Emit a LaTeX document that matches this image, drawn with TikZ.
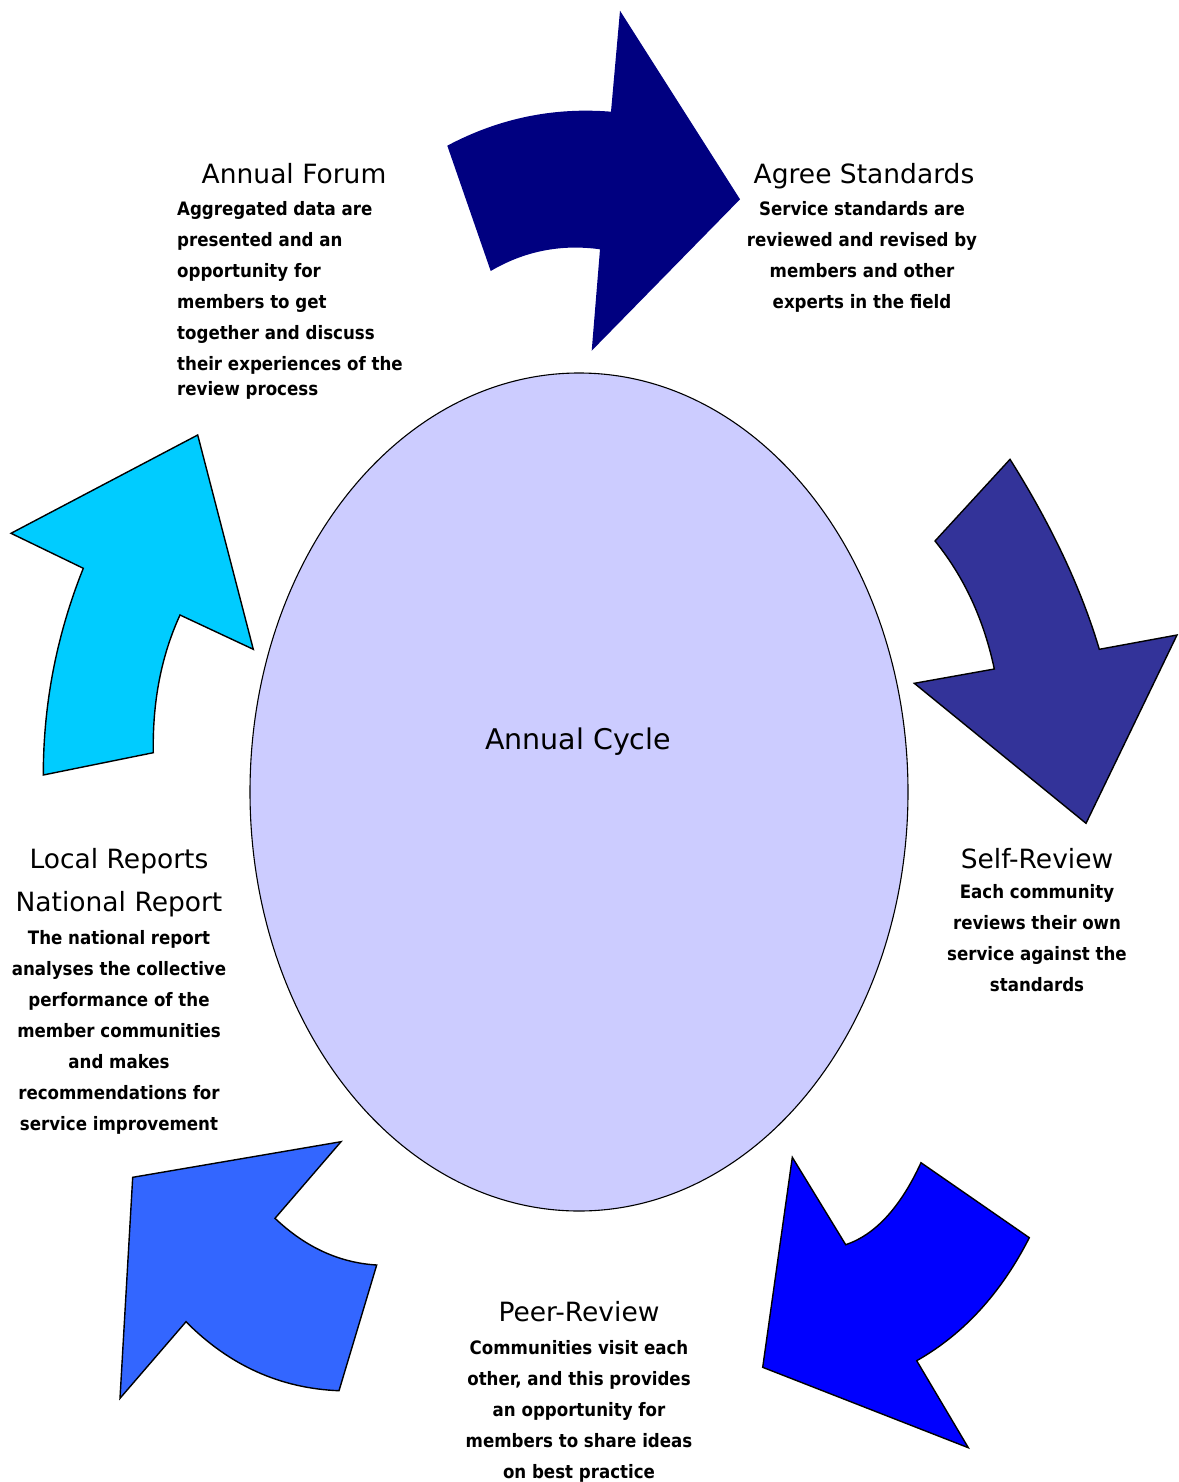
\documentclass[tikz,border=0pt]{standalone}
\usepackage{fontspec}
\setmainfont{DejaVu Sans}
\newfontfamily\bodyfont{DejaVu Sans Condensed}
\definecolor{cnavy}{HTML}{000080}
\definecolor{cdark}{HTML}{333399}
\definecolor{cblue}{HTML}{0000FF}
\definecolor{cmid}{HTML}{3366FF}
\definecolor{csky}{HTML}{00CCFF}
\definecolor{clav}{HTML}{CCCCFF}
\begin{document}
\begin{tikzpicture}[x=1pt,y=-1pt,
  arrowshape/.style={draw=black,line width=1.4pt,line join=miter},
  titletext/.style={anchor=base,inner sep=0pt,font=\fontsize{26.5}{30}\selectfont},
  bodytext/.style={anchor=north,inner sep=0pt,align=center,font=\bodyfont\fontsize{18.5}{31}\selectfont\bfseries},
]
\useasboundingbox (0,0) rectangle (1178,1482);
% central ellipse
\draw[fill=clav,line width=1.1pt] (579,792) ellipse [x radius=329, y radius=419];
\node[anchor=base,inner sep=0pt,font=\fontsize{28.5}{32}\selectfont] (cycle) at (578,749) {Annual Cycle};

% arrow 1 (navy, top)
\fill[cnavy] (447.3,145.7) .. controls (498.6,118.4) and (553.2,107.0) .. (611,111.7) -- (620,10.7) -- (740,199.3)
  -- (591.7,350.7) -- (600,249.3) .. controls (560.8,243.9) and (524.4,251.2) .. (490.7,271) -- cycle;
% arrow 2 (right)
\filldraw[arrowshape,fill=cdark] (1010,459.3) -- (935,541) .. controls (964.2,577) and (983.9,619.7) .. (994.3,669)
  -- (914.3,683.3) -- (1086,823.3) -- (1177,635) -- (1099.3,649.3)
  .. controls (1081.1,588.2) and (1051.3,524.9) .. cycle;
% arrow 3 (bottom right)
\filldraw[arrowshape,fill=cblue] (792.3,1157.3) -- (845.7,1244.7) .. controls (875.3,1234.7) and (900.4,1207.4) .. (921,1162.7)
  -- (1029.3,1237.7) .. controls (1001.1,1293.1) and (963.6,1334.1) .. (916.7,1360.7) -- (968.3,1447.7)
  -- (762.7,1367.3) -- cycle;
% arrow 4 (bottom left)
\filldraw[arrowshape,fill=cmid] (341,1141.7) -- (275,1218.3) .. controls (305.5,1247.3) and (339.4,1262.8) .. (376.7,1265)
  -- (339,1390.7) .. controls (280.3,1388.4) and (229.3,1365.4) .. (186,1321.7) -- (120,1398.3)
  -- (132.7,1177.3) -- cycle;
% arrow 5 (left)
\filldraw[arrowshape,fill=csky] (197.7,435) -- (253.3,649.3) -- (180,615) .. controls (161.3,655.8) and (152.4,701.7) .. (153.3,752.7)
  -- (43.3,775) .. controls (43.3,703.9) and (56.6,635.0) .. (83.3,568.3) -- (11,533.3) -- cycle;

% Agree Standards
\node[titletext] (agreeT) at (864,183) {Agree Standards};
\node[bodytext] (agreeB) at (862,201.5) {\rule{0pt}{13.5pt}Service standards are\\reviewed and revised by\\members and other\\experts in the field};
% Annual Forum
\node[titletext] (forumT) at (294,183) {Annual Forum};
\node[bodytext,anchor=north west,align=left] (forumB) at (177,201.5) {\rule{0pt}{13.5pt}Aggregated data are\\presented and an\\opportunity for\\members to get\\together and discuss\\their experiences of the\\[-6pt]review process};
% Self-Review
\node[titletext] (selfT) at (1037,868) {Self-Review};
\node[bodytext] (selfB) at (1037,884.5) {\rule{0pt}{13.5pt}Each community\\reviews their own\\service against the\\standards};
% Peer-Review
\node[titletext] (peerT) at (579,1321) {Peer-Review};
\node[bodytext] (peerB) at (579,1340) {\rule{0pt}{13.5pt}Communities visit each\\other, and this provides\\an opportunity for\\members to share ideas\\on best practice};
% Local / National Reports
\node[titletext] (localT) at (119,868) {Local Reports};
\node[titletext] (nationalT) at (119,911) {National Report};
\node[bodytext] (nationalB) at (119,930) {\rule{0pt}{13.5pt}The national report\\analyses the collective\\performance of the\\member communities\\and makes\\recommendations for\\service improvement};
\end{tikzpicture}
\end{document}
